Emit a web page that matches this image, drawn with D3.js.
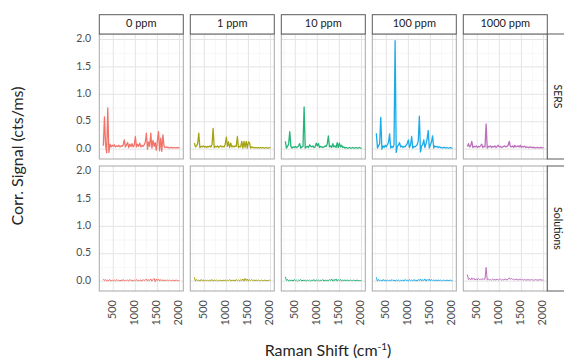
<!DOCTYPE html>
<html>
<head>
<meta charset="utf-8">
<script src="https://cdn.jsdelivr.net/npm/d3@7"></script>
<style>
  body { margin: 0; background: #fff; }
  svg { display: block; font-family: Lato, "Open Sans", sans-serif; }
</style>
</head>
<body>
<div id="chart"></div>
<script>
// facets
const concentrations = ["0 ppm", "1 ppm", "10 ppm", "100 ppm", "1000 ppm"];
const signalTypes = ["SERS", "Solutions"];

// Raman shift grid (cm-1)
const ramanShift = [
  275, 300, 325, 350, 375, 400, 425, 450, 475, 500,
  525, 550, 575, 600, 625, 650, 675, 700, 725, 750,
  775, 800, 825, 850, 875, 900, 925, 950, 975, 1000,
  1025, 1050, 1075, 1100, 1125, 1150, 1175, 1200, 1225, 1250,
  1275, 1300, 1325, 1350, 1375, 1400, 1425, 1450, 1475, 1500,
  1525, 1550, 1575, 1600, 1625, 1650, 1675, 1700, 1725, 1750,
  1775, 1800, 1825, 1850, 1875, 1900, 1925, 1950, 1975, 2000
];

// SERS spectra (cts/ms)
const sers0 = [
  0.06, 0.59, 0.08, -0.07, 0.75, -0.06, 0.09, 0.04, 0.07, 0.05,
  0.08, 0.04, 0.06, 0.05, 0.07, 0.04, 0.06, 0.05, 0.08, 0.17,
  0.04, 0.08, 0.12, 0.03, 0.09, 0.05, 0.10, 0.04, 0.07, 0.23,
  0.04, 0.09, 0.05, 0.11, 0.04, 0.07, 0.05, 0.08, 0.12, 0.29,
  0.00, 0.13, 0.05, 0.29, 0.02, 0.16, 0.05, 0.12, -0.02, 0.15,
  0.32, -0.03, 0.20, -0.04, 0.26, 0.05, 0.03, 0.04, 0.03, 0.03,
  0.02, 0.03, 0.03, 0.02, 0.03, 0.02, 0.03, 0.02, 0.03, 0.02
];
const sers1 = [
  0.11, 0.04, 0.06, 0.10, 0.29, 0.03, 0.05, 0.04, 0.06, 0.04,
  0.05, 0.03, 0.05, 0.04, 0.06, 0.04, 0.08, 0.38, 0.03, 0.05,
  0.04, 0.06, 0.03, 0.05, 0.06, 0.04, 0.05, 0.04, 0.09, 0.22,
  0.05, 0.13, 0.03, 0.11, 0.04, 0.06, 0.04, 0.06, 0.05, 0.23,
  0.03, 0.05, 0.04, 0.14, 0.02, 0.14, 0.03, 0.14, 0.02, 0.13,
  0.12, 0.02, 0.04, 0.03, 0.03, 0.02, 0.03, 0.02, 0.03, 0.02,
  0.03, 0.02, 0.03, 0.02, 0.02, 0.03, 0.02, 0.02, 0.03, 0.02
];
const sers10 = [
  0.14, 0.02, 0.05, 0.10, 0.32, 0.05, 0.02, 0.04, 0.03, 0.05,
  0.03, 0.04, 0.06, 0.10, 0.02, 0.04, 0.05, 0.77, 0.02, 0.04,
  0.05, 0.03, 0.08, 0.05, 0.04, 0.06, 0.03, 0.04, 0.11, 0.06,
  0.10, 0.03, 0.05, 0.04, 0.03, 0.04, 0.06, 0.05, 0.10, 0.24,
  0.04, 0.06, 0.03, 0.10, 0.04, 0.06, 0.03, 0.12, 0.03, 0.11,
  0.04, 0.07, 0.03, 0.04, 0.02, 0.03, 0.02, 0.02, 0.03, 0.02,
  0.02, 0.03, 0.02, 0.02, 0.03, 0.02, 0.02, 0.03, 0.02, 0.02
];
const sers100 = [
  0.29, 0.02, 0.06, 0.10, 0.58, 0.00, 0.06, 0.03, 0.07, 0.04,
  0.08, 0.12, 0.28, 0.02, 0.05, 0.03, 0.08, 1.98, -0.06, 0.05,
  0.07, 0.12, 0.04, 0.06, 0.03, 0.05, 0.04, 0.07, 0.10, 0.17,
  0.03, 0.08, 0.23, 0.02, 0.05, 0.04, 0.06, 0.08, 0.15, 0.60,
  -0.05, 0.06, 0.08, 0.17, 0.03, 0.10, 0.18, 0.34, 0.02, 0.08,
  0.13, 0.24, 0.02, 0.06, 0.04, 0.05, 0.03, 0.04, 0.03, 0.03,
  0.02, 0.03, 0.03, 0.02, 0.03, 0.02, 0.02, 0.03, 0.02, 0.02
];
const sers1000 = [
  0.05, 0.10, 0.04, 0.06, 0.14, 0.03, 0.05, 0.04, 0.06, 0.03,
  0.05, 0.04, 0.06, 0.09, 0.03, 0.05, 0.04, 0.46, 0.02, 0.05,
  0.04, 0.06, 0.03, 0.05, 0.04, 0.06, 0.03, 0.05, 0.07, 0.04,
  0.05, 0.03, 0.04, 0.05, 0.06, 0.04, 0.05, 0.07, 0.14, 0.05,
  0.04, 0.06, 0.03, 0.07, 0.04, 0.05, 0.06, 0.04, 0.07, 0.03,
  0.05, 0.04, 0.05, 0.03, 0.04, 0.03, 0.03, 0.04, 0.03, 0.03,
  0.03, 0.03, 0.02, 0.03, 0.03, 0.02, 0.03, 0.03, 0.02, 0.03
];

// solution spectra (cts/ms)
const sol0 = [
  0.04, 0.01, 0.03, 0.00, 0.02, 0.01, 0.03, 0.00, 0.02, 0.01,
  0.02, 0.00, 0.03, 0.01, 0.02, 0.00, 0.02, 0.01, 0.03, 0.00,
  0.02, 0.01, 0.02, 0.00, 0.03, 0.01, 0.02, 0.00, 0.02, 0.01,
  0.03, 0.00, 0.02, 0.01, 0.02, 0.00, 0.03, 0.01, 0.02, 0.04,
  0.00, 0.03, 0.01, 0.04, 0.00, 0.03, 0.05, -0.01, 0.04, 0.01,
  0.04, 0.00, 0.03, 0.01, 0.02, 0.01, 0.02, 0.01, 0.02, 0.01,
  0.02, 0.01, 0.01, 0.02, 0.01, 0.01, 0.02, 0.01, 0.01, 0.01
];
const sol1 = [
  0.07, 0.00, 0.03, 0.01, 0.02, 0.00, 0.03, 0.01, 0.02, 0.00,
  0.02, 0.01, 0.02, 0.00, 0.02, 0.01, 0.03, 0.00, 0.02, 0.01,
  0.02, 0.00, 0.02, 0.01, 0.02, 0.00, 0.02, 0.01, 0.02, 0.00,
  0.02, 0.01, 0.03, 0.00, 0.02, 0.01, 0.02, 0.00, 0.03, 0.01,
  0.02, 0.00, 0.03, 0.01, 0.04, 0.00, 0.05, 0.01, 0.04, 0.00,
  0.03, 0.01, 0.03, 0.01, 0.02, 0.01, 0.02, 0.01, 0.02, 0.01,
  0.01, 0.02, 0.01, 0.01, 0.02, 0.01, 0.01, 0.01, 0.02, 0.01
];
const sol10 = [
  0.08, 0.01, 0.03, 0.00, 0.02, 0.01, 0.02, 0.00, 0.03, 0.01,
  0.02, 0.00, 0.02, 0.01, 0.03, 0.00, 0.02, 0.01, 0.02, 0.00,
  0.02, 0.01, 0.02, 0.00, 0.02, 0.01, 0.03, 0.00, 0.02, 0.01,
  0.02, 0.00, 0.02, 0.01, 0.03, 0.00, 0.02, 0.01, 0.02, 0.00,
  0.03, 0.01, 0.04, 0.00, 0.03, 0.01, 0.04, 0.00, 0.03, 0.01,
  0.03, 0.00, 0.02, 0.01, 0.02, 0.01, 0.02, 0.01, 0.01, 0.02,
  0.01, 0.01, 0.02, 0.01, 0.01, 0.02, 0.01, 0.01, 0.01, 0.01
];
const sol100 = [
  0.07, 0.00, 0.03, 0.01, 0.02, 0.00, 0.03, 0.01, 0.02, 0.00,
  0.02, 0.01, 0.02, 0.00, 0.03, 0.01, 0.02, 0.00, 0.02, 0.01,
  0.02, 0.00, 0.02, 0.01, 0.02, 0.00, 0.03, 0.01, 0.02, 0.00,
  0.03, 0.01, 0.02, 0.00, 0.03, 0.01, 0.02, 0.00, 0.03, 0.01,
  0.04, 0.00, 0.03, 0.01, 0.04, 0.00, 0.03, 0.01, 0.04, 0.00,
  0.03, 0.01, 0.02, 0.01, 0.02, 0.01, 0.02, 0.01, 0.02, 0.01,
  0.01, 0.02, 0.01, 0.01, 0.02, 0.01, 0.01, 0.02, 0.01, 0.01
];
const sol1000 = [
  0.12, 0.03, 0.05, 0.02, 0.06, 0.03, 0.05, 0.02, 0.04, 0.02,
  0.05, 0.03, 0.04, 0.02, 0.05, 0.03, 0.04, 0.25, 0.02, 0.04,
  0.02, 0.03, 0.02, 0.04, 0.02, 0.03, 0.02, 0.04, 0.02, 0.03,
  0.04, 0.02, 0.03, 0.02, 0.04, 0.03, 0.02, 0.04, 0.06, 0.03,
  0.05, 0.03, 0.04, 0.02, 0.04, 0.03, 0.02, 0.03, 0.04, 0.02,
  0.03, 0.02, 0.03, 0.02, 0.02, 0.03, 0.02, 0.02, 0.03, 0.02,
  0.02, 0.02, 0.03, 0.02, 0.02, 0.02, 0.03, 0.02, 0.02, 0.02
];

const seriesColors = ["#f2736a", "#a6a312", "#24b378", "#1aabea", "#bd6fbd"];
const xTicks = [500, 1000, 1500, 2000];
const xMinor = [250, 750, 1250, 1750];
const yTicks = [0, 0.5, 1, 1.5, 2];
const yMinor = [0.25, 0.75, 1.25, 1.75];

const spectra = {
  SERS: [sers0, sers1, sers10, sers100, sers1000],
  Solutions: [sol0, sol1, sol10, sol100, sol1000]
};

const width = 564, height = 360;
const svg = d3.select("#chart").append("svg")
  .attr("width", width)
  .attr("height", height);

const col = d3.scaleBand().domain(concentrations).range([99.3, 547.3]).paddingInner(7 / 91);
const row = d3.scaleBand().domain(signalTypes).range([34, 291]).paddingInner(7 / 132);

const x = d3.scaleLinear().domain([183, 2087]).range([0, col.bandwidth()]);
const y = d3.scaleLinear().domain([-0.18, 2.1]).range([row.bandwidth(), 0]);

const line = d3.line()
  .x((d) => x(d[0]))
  .y((d) => y(d[1]));

signalTypes.forEach((type, r) => {
  concentrations.forEach((conc, c) => {
    const g = svg.append("g").attr("transform", `translate(${col(conc)},${row(type)})`);
    const w = col.bandwidth(), h = row.bandwidth();

    g.append("rect").attr("width", w).attr("height", h).attr("fill", "#fff");

    g.selectAll(".vminor").data(xMinor).join("line")
      .attr("x1", (d) => x(d)).attr("x2", (d) => x(d))
      .attr("y1", 0).attr("y2", h)
      .attr("stroke", "#f2f2f2").attr("stroke-width", 0.6);
    g.selectAll(".hminor").data(yMinor).join("line")
      .attr("y1", (d) => y(d)).attr("y2", (d) => y(d))
      .attr("x1", 0).attr("x2", w)
      .attr("stroke", "#f2f2f2").attr("stroke-width", 0.6);
    g.selectAll(".vmajor").data(xTicks).join("line")
      .attr("x1", (d) => x(d)).attr("x2", (d) => x(d))
      .attr("y1", 0).attr("y2", h)
      .attr("stroke", "#e4e4e4").attr("stroke-width", 1);
    g.selectAll(".hmajor").data(yTicks).join("line")
      .attr("y1", (d) => y(d)).attr("y2", (d) => y(d))
      .attr("x1", 0).attr("x2", w)
      .attr("stroke", "#e4e4e4").attr("stroke-width", 1);

    const pts = ramanShift.map((s, i) => [s, spectra[type][c][i]]);
    g.append("path")
      .datum(pts)
      .attr("fill", "none")
      .attr("stroke", seriesColors[c])
      .attr("stroke-width", type === "SERS" ? 1.3 : 1)
      .attr("stroke-linejoin", "round")
      .attr("d", line);

    g.append("rect").attr("width", w).attr("height", h)
      .attr("fill", "none").attr("stroke", "#a8a8a8").attr("stroke-width", 1);

    // top strips
    if (r === 0) {
      svg.append("rect")
        .attr("x", col(conc)).attr("y", 14.7)
        .attr("width", w).attr("height", 34 - 14.7)
        .attr("fill", "#fff").attr("stroke", "#5a5a5a").attr("stroke-width", 1);
      svg.append("text")
        .attr("x", col(conc) + w / 2).attr("y", 24.6)
        .attr("text-anchor", "middle").attr("dominant-baseline", "middle")
        .attr("font-size", 11).attr("fill", "#1a1a1a")
        .text(conc);
    }

    // x tick labels under bottom row
    if (r === signalTypes.length - 1) {
      g.selectAll(".xlab").data(xTicks).join("text")
        .attr("transform", (d) => `translate(${x(d)},${h + 9}) rotate(-90)`)
        .attr("text-anchor", "end").attr("dominant-baseline", "middle")
        .attr("font-size", 11).attr("fill", "#4d4d4d")
        .text((d) => d);
    }
  });

  // y tick labels
  svg.append("g").selectAll("text").data(yTicks).join("text")
    .attr("x", 91).attr("y", (d) => row(type) + y(d))
    .attr("text-anchor", "end").attr("dominant-baseline", "middle")
    .attr("font-size", 10.5).attr("fill", "#4d4d4d")
    .text((d) => d3.format(".1f")(d));

  // right strips (clipped by the page edge, as in the source)
  const rx = col.range()[1];
  svg.append("rect")
    .attr("x", rx).attr("y", row(type))
    .attr("width", 20).attr("height", row.bandwidth())
    .attr("fill", "#fff").attr("stroke", "#5a5a5a").attr("stroke-width", 1);
  svg.append("text")
    .attr("transform", `translate(${rx + 9.5},${row(type) + row.bandwidth() / 2}) rotate(90)`)
    .attr("text-anchor", "middle").attr("dominant-baseline", "middle")
    .attr("font-size", 10.5).attr("fill", "#1a1a1a")
    .text(type);
});

// axis titles
const xTitle = svg.append("text")
  .attr("x", 328).attr("y", 355.5)
  .attr("text-anchor", "middle")
  .attr("font-size", 16).attr("fill", "#262626");
xTitle.append("tspan").text("Raman Shift (cm");
xTitle.append("tspan").attr("font-size", 10).attr("dy", -6).text("-1");
xTitle.append("tspan").attr("dy", 6).text(")");

svg.append("text")
  .attr("transform", "translate(23,156) rotate(-90)")
  .attr("text-anchor", "middle")
  .attr("font-size", 16).attr("fill", "#262626")
  .text("Corr. Signal (cts/ms)");
</script>
</body>
</html>
